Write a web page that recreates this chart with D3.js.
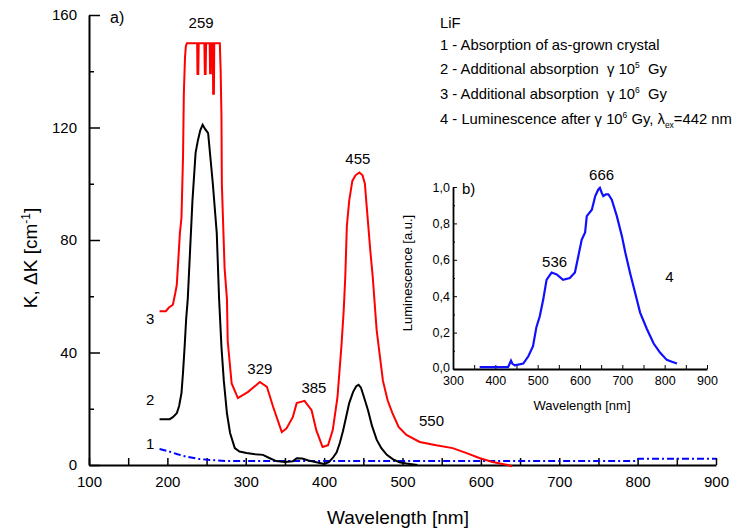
<!DOCTYPE html>
<html>
<head>
<meta charset="utf-8">
<script src="https://cdn.jsdelivr.net/npm/d3@7"></script>
<style>
  body { margin: 0; background: #fff; }
  svg text { font-family: "Liberation Sans", Arial, sans-serif; fill: #000; }
</style>
</head>
<body>
<div id="chart"></div>
<script>
// curve 1 - absorption of as-grown crystal [nm, 1/cm]
const curve1 = [[190,5.7],[200,5.0],[212,3.9],[225,2.9],[241,2.1],[260,1.7],[276,1.4],[350,1.4],
  [500,1.4],[650,1.4],[799,1.4],[801,2.2],[900,2.2]];

// curve 2 - additional absorption 10^5 Gy
const curve2 = [[190,16.3],[203,16.3],[207,17],[212,18.4],[215,21],[218,25.6],[220,33],[222,42],
  [224,52],[226,59],[229,76.5],[232,94],[236,111],[239,115.5],[242,119],[245,121],[248,119.5],
  [252,118],[254,112],[258,100],[263,82.5],[266,59],[269,42],[272,30],[276,18.4],[280,11.4],
  [286,6],[292,4.8],[301,4.3],[312,3.8],[322,3.6],[330,2.5],[339,1.4],[350,1.1],[360,1.3],
  [365,2.4],[372,2.3],[380,1.6],[390,1.0],[400,0.4],[406,1],[411,2.5],[416,4.5],[420,7.8],
  [424,12],[428,17],[432,22],[437,26],[441,28],[444,28.5],[447,27.5],[451,24],[456,19.5],
  [461,14],[467,9],[473,6],[480,3.6],[488,2],[496,1],[505,0.5],[519,0]];

// curve 3 - additional absorption 10^6 Gy (saturated near 150)
const curve3 = [[190,54.7],[198,54.7],[202,56],[207,57],[210,61],[212,64],[216,82.5],[218,88],
  [220,110],[221,132],[222.5,145],[223.6,149],[225,150],[238,150],[238.4,139],[239.4,139],
  [240,150],[247.2,150],[247.8,139],[248.8,139],[249.4,150],[254,150],[254.5,139.3],[255.5,139.3],
  [256,150],[258,150],[258.4,132],[259.4,132],[259.8,150],[266.9,150],[268,140],[269,124],
  [269.5,100],[273,70],[276,59],[277,44],[282,29],[290,23.8],[303,26],[318,29.5],[327,27.8],
  [335,20.6],[346,11.7],[352,13],[360,17],[365,22],[375,22.8],[384,19.5],[390,12.4],[398,6.4],
  [405,7],[411,12.4],[417,24],[422,42],[425,55],[427,67],[429,85],[432,94],[436,101],[440,103],
  [445,104],[449,103],[452,100],[454,93],[459,76],[462,67],[467,48],[475,30],[481,23],
  [487,18.5],[495,13.5],[505,10.7],[522,8.2],[543,7],[564,6],[581,4.3],[598,2.5],[615,1.1],
  [634,0],[640,-0.5]];

// curve 4 - luminescence (inset)
const curve4 = [[363,0.01],[430,0.01],[434,0.03],[437,0.046],[440,0.03],[446,0.02],[466,0.03],
  [478,0.07],[489,0.125],[497,0.23],[505,0.29],[513,0.38],[521,0.49],[527,0.51],[533,0.53],
  [545,0.52],[560,0.49],[576,0.50],[588,0.53],[596,0.62],[604,0.71],[612,0.75],[616,0.84],
  [628,0.875],[636,0.95],[643,0.985],[647,0.995],[651,0.97],[655,0.95],[661,0.96],[667,0.96],
  [675,0.93],[687,0.84],[699,0.73],[707,0.64],[718,0.53],[730,0.42],[742,0.31],[758,0.22],
  [774,0.14],[789,0.09],[805,0.05],[817,0.04],[829,0.03]];

const mainXTicks = [100,150,200,250,300,350,400,450,500,550,600,650,700,750,800,850,900];
const mainYMajor = [0,40,80,120,160];
const mainYMinor = [20,60,100,140];
const insetXTicks = [300,350,400,450,500,550,600,650,700,750,800,850,900];
const insetYMajor = [0,0.2,0.4,0.6,0.8,1.0];
const insetYMinor = [0.1,0.3,0.5,0.7,0.9];

const peakLabels = [
  {wl: 243, k: 155.4, text: '259'},
  {wl: 443, k: 107, text: '455'},
  {wl: 318, k: 32.5, text: '329'},
  {wl: 387, k: 25.5, text: '385'},
  {wl: 537, k: 14, text: '550'}
];
const curveLabels = [
  {wl: 178, k: 50, text: '3'},
  {wl: 178, k: 21.5, text: '2'},
  {wl: 178, k: 5.7, text: '1'}
];

const width = 738;
const height = 531;

const svg = d3.select('#chart')
              .append('svg')
              .attr('width', width)
              .attr('height', height);

// ---- main panel ----
const x = d3.scaleLinear().domain([100, 900]).range([89, 716]);
const y = d3.scaleLinear().domain([0, 160]).range([465, 15]);

const xAxis = d3.axisBottom(x)
                .tickValues(mainXTicks)
                .tickFormat((d) => d % 100 === 0 ? d : '')
                .tickSizeInner(-7)
                .tickSizeOuter(0)
                .tickPadding(11);

const gx = svg.append('g')
              .attr('transform', 'translate(0,465)')
              .call(xAxis);
gx.selectAll('text').style('font-size', '15px');

const yAxis = d3.axisLeft(y)
                .tickValues(mainYMajor)
                .tickSizeInner(-11)
                .tickSizeOuter(0)
                .tickPadding(12);
const gy = svg.append('g')
              .attr('transform', 'translate(89,0)')
              .call(yAxis);
gy.selectAll('text').style('font-size', '15px');

svg.append('g')
   .attr('transform', 'translate(89,0)')
   .call(d3.axisLeft(y).tickValues(mainYMinor).tickFormat('').tickSizeInner(-5).tickSizeOuter(0))
   .select('.domain').remove();

svg.selectAll('.domain').attr('stroke-width', 2);
svg.selectAll('.tick line').attr('stroke-width', 1.5);

const line = d3.line()
               .x((d) => x(d[0]))
               .y((d) => y(d[1]));

svg.append('path')
   .datum(curve1)
   .attr('d', line)
   .attr('fill', 'none')
   .attr('stroke', '#0000ff')
   .attr('stroke-width', 2)
   .attr('stroke-dasharray', '7,3,2,3');

svg.append('path')
   .datum(curve2)
   .attr('d', line)
   .attr('fill', 'none')
   .attr('stroke', '#000')
   .attr('stroke-width', 2);

svg.append('path')
   .datum(curve3)
   .attr('d', line)
   .attr('fill', 'none')
   .attr('stroke', '#ff0000')
   .attr('stroke-width', 2);

svg.selectAll('.peak')
   .data(peakLabels)
   .enter()
   .append('text')
   .attr('class', 'peak')
   .attr('x', (d) => x(d.wl))
   .attr('y', (d) => y(d.k))
   .attr('text-anchor', 'middle')
   .style('font-size', '15px')
   .text((d) => d.text);

svg.selectAll('.clabel')
   .data(curveLabels)
   .enter()
   .append('text')
   .attr('class', 'clabel')
   .attr('x', (d) => x(d.wl))
   .attr('y', (d) => y(d.k))
   .attr('text-anchor', 'middle')
   .style('font-size', '15px')
   .text((d) => d.text);

svg.append('text')
   .attr('x', 110)
   .attr('y', 23)
   .style('font-size', '16px')
   .text('a)');

svg.append('text')
   .attr('x', 398)
   .attr('y', 524)
   .attr('text-anchor', 'middle')
   .style('font-size', '19px')
   .text('Wavelength [nm]');

const yTitle = svg.append('text')
                  .attr('transform', 'translate(37,258) rotate(-90)')
                  .attr('text-anchor', 'middle')
                  .style('font-size', '19px');
yTitle.append('tspan').text('K, ΔK [cm');
yTitle.append('tspan').attr('dy', -7).style('font-size', '12px').text('-1');
yTitle.append('tspan').attr('dy', 7).text(']');

// ---- legend ----
const legendLines = [
  [{t: 'LiF'}],
  [{t: '1 - Absorption of as-grown crystal'}],
  [{t: '2 - Additional absorption  γ 10'}, {t: '5', s: 'sup'}, {t: '  Gy'}],
  [{t: '3 - Additional absorption  γ 10'}, {t: '6', s: 'sup'}, {t: '  Gy'}],
  [{t: '4 - Luminescence after γ 10'}, {t: '6', s: 'sup'}, {t: ' Gy, λ'}, {t: 'ex', s: 'sub'}, {t: '=442 nm'}]
];
const legendBase = [28, 50, 74, 99, 124];

legendLines.forEach((parts, i) => {
  const t = svg.append('text')
               .attr('x', 440)
               .attr('y', legendBase[i])
               .style('font-size', '14.8px')
               .attr('xml:space', 'preserve');
  let shift = 0;
  parts.forEach((p) => {
    let target = 0;
    if (p.s === 'sup') target = -6;
    if (p.s === 'sub') target = 4;
    t.append('tspan')
     .attr('dy', target - shift)
     .style('font-size', p.s ? '8.5px' : '14.8px')
     .text(p.t);
    shift = target;
  });
});

// ---- inset ----
const ix = d3.scaleLinear().domain([300, 900]).range([453, 707]);
const iy = d3.scaleLinear().domain([0, 1]).range([369, 187]);
const comma = (d) => d3.format('.1f')(d).replace('.', ',');

const igx = svg.append('g')
               .attr('transform', 'translate(0,369)')
               .call(d3.axisBottom(ix)
                       .tickValues(insetXTicks)
                       .tickFormat((d) => d % 100 === 0 ? d : '')
                       .tickSizeInner(-4)
                       .tickSizeOuter(0)
                       .tickPadding(7));
igx.selectAll('text').style('font-size', '12.5px');

const igy = svg.append('g')
               .attr('transform', 'translate(453,0)')
               .call(d3.axisLeft(iy)
                       .tickValues(insetYMajor)
                       .tickFormat(comma)
                       .tickSizeInner(-4)
                       .tickSizeOuter(0)
                       .tickPadding(3));
igy.selectAll('text').style('font-size', '12.5px');
igy.selectAll('.tick').filter((d) => d === 0).select('text').attr('dy', '0.2em');

svg.append('g')
   .attr('transform', 'translate(453,0)')
   .call(d3.axisLeft(iy).tickValues(insetYMinor).tickFormat('').tickSizeInner(-2).tickSizeOuter(0))
   .select('.domain').remove();

igx.select('.domain').attr('stroke-width', 1.8);
igy.select('.domain').attr('stroke-width', 1.8);

const iline = d3.line()
                .x((d) => ix(d[0]))
                .y((d) => iy(d[1]));

svg.append('path')
   .datum(curve4)
   .attr('d', iline)
   .attr('fill', 'none')
   .attr('stroke', '#1010ff')
   .attr('stroke-width', 2.2);

svg.append('text')
   .attr('x', 462)
   .attr('y', 194)
   .style('font-size', '15px')
   .text('b)');

const insetLabels = [
  {wl: 651, v: 1.04, text: '666'},
  {wl: 540, v: 0.56, text: '536'},
  {wl: 811, v: 0.48, text: '4'}
];
svg.selectAll('.ilabel')
   .data(insetLabels)
   .enter()
   .append('text')
   .attr('class', 'ilabel')
   .attr('x', (d) => ix(d.wl))
   .attr('y', (d) => iy(d.v))
   .attr('text-anchor', 'middle')
   .style('font-size', '15px')
   .text((d) => d.text);

svg.append('text')
   .attr('x', 582)
   .attr('y', 410)
   .attr('text-anchor', 'middle')
   .style('font-size', '13px')
   .text('Wavelength [nm]');

svg.append('text')
   .attr('transform', 'translate(412,273) rotate(-90)')
   .attr('text-anchor', 'middle')
   .style('font-size', '13px')
   .text('Luminescence [a.u.]');
</script>
</body>
</html>
